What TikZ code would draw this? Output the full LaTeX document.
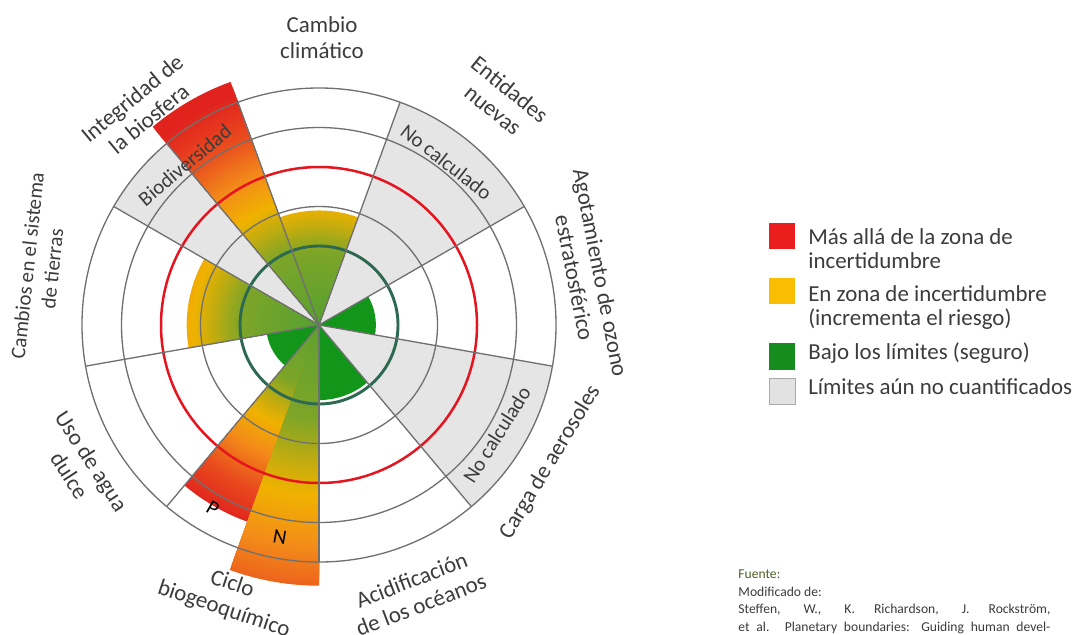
\documentclass[tikz,border=0pt]{standalone}
\usepackage{fontspec}
\setmainfont{Carlito}
\usetikzlibrary{calc}

\definecolor{ringgray}{RGB}{112,112,112}
\definecolor{nogray}{RGB}{229,229,229}
\definecolor{boundred}{RGB}{230,20,30}
\definecolor{ringgreen}{RGB}{45,105,80}
\definecolor{safegreen}{RGB}{18,150,25}
\definecolor{txtgray}{RGB}{60,60,60}
\definecolor{fuentegreen}{RGB}{78,98,40}
\definecolor{legred}{RGB}{235,30,30}
\definecolor{legyellow}{RGB}{250,190,0}
\definecolor{leggreen}{RGB}{20,140,30}
\definecolor{leggray}{RGB}{226,226,226}
% stops of the risk gradient
\definecolor{gA}{RGB}{85,160,50}
\definecolor{gB}{RGB}{125,165,40}
\definecolor{gC}{RGB}{195,172,15}
\definecolor{gD}{RGB}{240,178,0}
\definecolor{gE}{RGB}{243,140,25}
\definecolor{gF}{RGB}{233,75,30}
\definecolor{gG}{RGB}{225,35,30}
\colorlet{wedgecol}{gA}

\newcommand{\mixat}[1]{%
  \pgfmathsetmacro{\rreff}{max(0,min(#1,6))}%
  \ifdim\rreff pt<2pt
    \pgfmathsetmacro{\rpct}{100*\rreff/2}\colorlet{wedgecol}{gB!\rpct!gA}%
  \else\ifdim\rreff pt<2.7pt
    \pgfmathsetmacro{\rpct}{100*(\rreff-2)/0.7}\colorlet{wedgecol}{gC!\rpct!gB}%
  \else\ifdim\rreff pt<3.2pt
    \pgfmathsetmacro{\rpct}{100*(\rreff-2.7)/0.5}\colorlet{wedgecol}{gD!\rpct!gC}%
  \else\ifdim\rreff pt<4pt
    \pgfmathsetmacro{\rpct}{100*(\rreff-3.2)/0.8}\colorlet{wedgecol}{gE!\rpct!gD}%
  \else\ifdim\rreff pt<5pt
    \pgfmathsetmacro{\rpct}{100*(\rreff-4)}\colorlet{wedgecol}{gF!\rpct!gE}%
  \else
    \pgfmathsetmacro{\rpct}{100*(\rreff-5)}\colorlet{wedgecol}{gG!\rpct!gF}%
  \fi\fi\fi\fi\fi}

% from angle, to angle, length, colour scale, colour offset
\newcommand{\gradwedge}[5]{%
  \foreach \k in {80,79,...,1}{%
    \pgfmathsetmacro{\rr}{#3*\k/80}%
    \mixat{#5+#4*\rr}%
    \fill[wedgecol] (0,0) -- (#1:\rr) arc[start angle=#1, end angle=#2, radius=\rr] -- cycle;
  }}

\begin{document}
\begin{tikzpicture}[
    ring/.style={draw=ringgray, line width=0.95pt},
    lbl/.style={font=\fontsize{16.5}{19}\selectfont, text=txtgray, align=center, inner sep=0pt},
    inlbl/.style={font=\fontsize{15}{18}\selectfont, text=txtgray, inner sep=0pt},
    legbox/.style={minimum size=0.66cm, inner sep=0pt},
    legtxt/.style={font=\fontsize{16.5}{16.8}\selectfont, text=txtgray, align=left, inner sep=0pt, anchor=west},
    srctxt/.style={font=\fontsize{9.8}{12.6}\selectfont, text=txtgray, text width=7.9cm, align=justify, inner sep=0pt, anchor=north west},
  ]
  \path[use as bounding box, fill=white] (-8.076,-7.823) rectangle (19.215,8.228);

  % not quantified
  \fill[nogray] (0,0) -- (30:6) arc[start angle=30, end angle=70, radius=6] -- cycle;
  \fill[nogray] (0,0) -- (130:6) arc[start angle=130, end angle=150, radius=6] -- cycle;
  \fill[nogray] (0,0) -- (310:6) arc[start angle=310, end angle=350, radius=6] -- cycle;

  % control variables
  \gradwedge{70}{110}{2.9}{1.07}{0}
  \gradwedge{110}{130}{6.55}{0.95}{0.1}
  \gradwedge{150}{190}{3.35}{1}{0}
  \gradwedge{230}{250}{5.3}{1.05}{0.3}
  \gradwedge{250}{270}{6.6}{0.62}{0.5}
  \fill[safegreen] (0,0) -- (-10:1.44) arc[start angle=-10, end angle=30, radius=1.44] -- cycle;
  \fill[safegreen] (0,0) -- (190:1.34) arc[start angle=190, end angle=230, radius=1.34] -- cycle;
  \fill[safegreen] (0,0) -- (270:1.9) arc[start angle=270, end angle=310, radius=1.9] -- cycle;

  % rings and spokes
  \draw[ring] (0,0) circle (3) (0,0) circle (5) (0,0) circle (6);
  \draw[draw=boundred, line width=1.8pt] (0,0) circle (4);
  \draw[draw=ringgreen, line width=2.1pt] (0,0) circle (2);
  \foreach \a in {30,70,...,350}
    \draw[ring] (0,0) -- (\a:6);
  \draw[ring] (0,0) -- (130:6);

  % boundaries
  \node[lbl] (climate) at (89.4:7.27) {Cambio\\climático};
  \node[lbl, rotate=39.5] (biosphere) at (129.5:7.11) {Integridad de\\la biosfera};
  \node[lbl, rotate=-39] (novel) at (51:7.34) {Entidades\\nuevas};
  \node[lbl, rotate=-79] (ozone) at (10.5:6.92) {Agotamiento de ozono\\estratosférico};
  \node[lbl, rotate=59] (aerosol) at (-30.7:6.81) {Carga de aerosoles};
  \node[lbl, rotate=21] (ocean) at (-70:7.2) {Acidificación\\de los océanos};
  \node[lbl, rotate=-18.5] (biogeo) at (-108.5:7.26) {Ciclo\\biogeoquímico};
  \node[lbl, rotate=-57] (water) at (-149:7.04) {Uso de agua\\dulce};
  \node[lbl, rotate=84, font=\fontsize{15}{18}\selectfont] (land) at (168.3:7.22) {Cambios en el sistema\\de tierras};

  \node[inlbl, rotate=-38] (nocalc1) at (52:5.24) {No calculado};
  \node[inlbl, rotate=58] (nocalc2) at (-31.7:5.29) {No calculado};
  \node[inlbl, rotate=40] (biodiv) at (130:5.29) {Biodiversidad};
  \node[inlbl, rotate=-30, text=black] (phos) at (-120:5.37) {P};
  \node[inlbl, rotate=-10, text=black] (nitro) at (-100.4:5.47) {N};

  % legend
  \node[legbox, fill=legred] (kred) at (11.72,2.253) {};
  \node[legbox, fill=legyellow] (kyellow) at (11.72,0.861) {};
  \node[legbox, fill=leggreen] (kgreen) at (11.72,-0.797) {};
  \node[legbox, fill=leggray, draw=ringgray!60] (kgray) at (11.72,-1.671) {};
  \node[legtxt] (tred) at (12.38,1.937) {Más allá de la zona de\\incertidumbre};
  \node[legtxt] (tyellow) at (12.38,0.443) {En zona de incertidumbre\\(incrementa el riesgo)};
  \node[legtxt] (tgreen) at (12.38,-0.722) {Bajo los límites (seguro)};
  \node[legtxt] (tgray) at (12.38,-1.57) {Límites aún no cuantificados};

  % source
  \node[srctxt] (source) at (10.61,-6.2) {\textcolor{fuentegreen}{Fuente:}\\Modificado de:\\Steffen, W., K. Richardson, J. Rockström,\linebreak et al. Planetary boundaries: Guiding human development on a changing planet.};
\end{tikzpicture}
\end{document}
